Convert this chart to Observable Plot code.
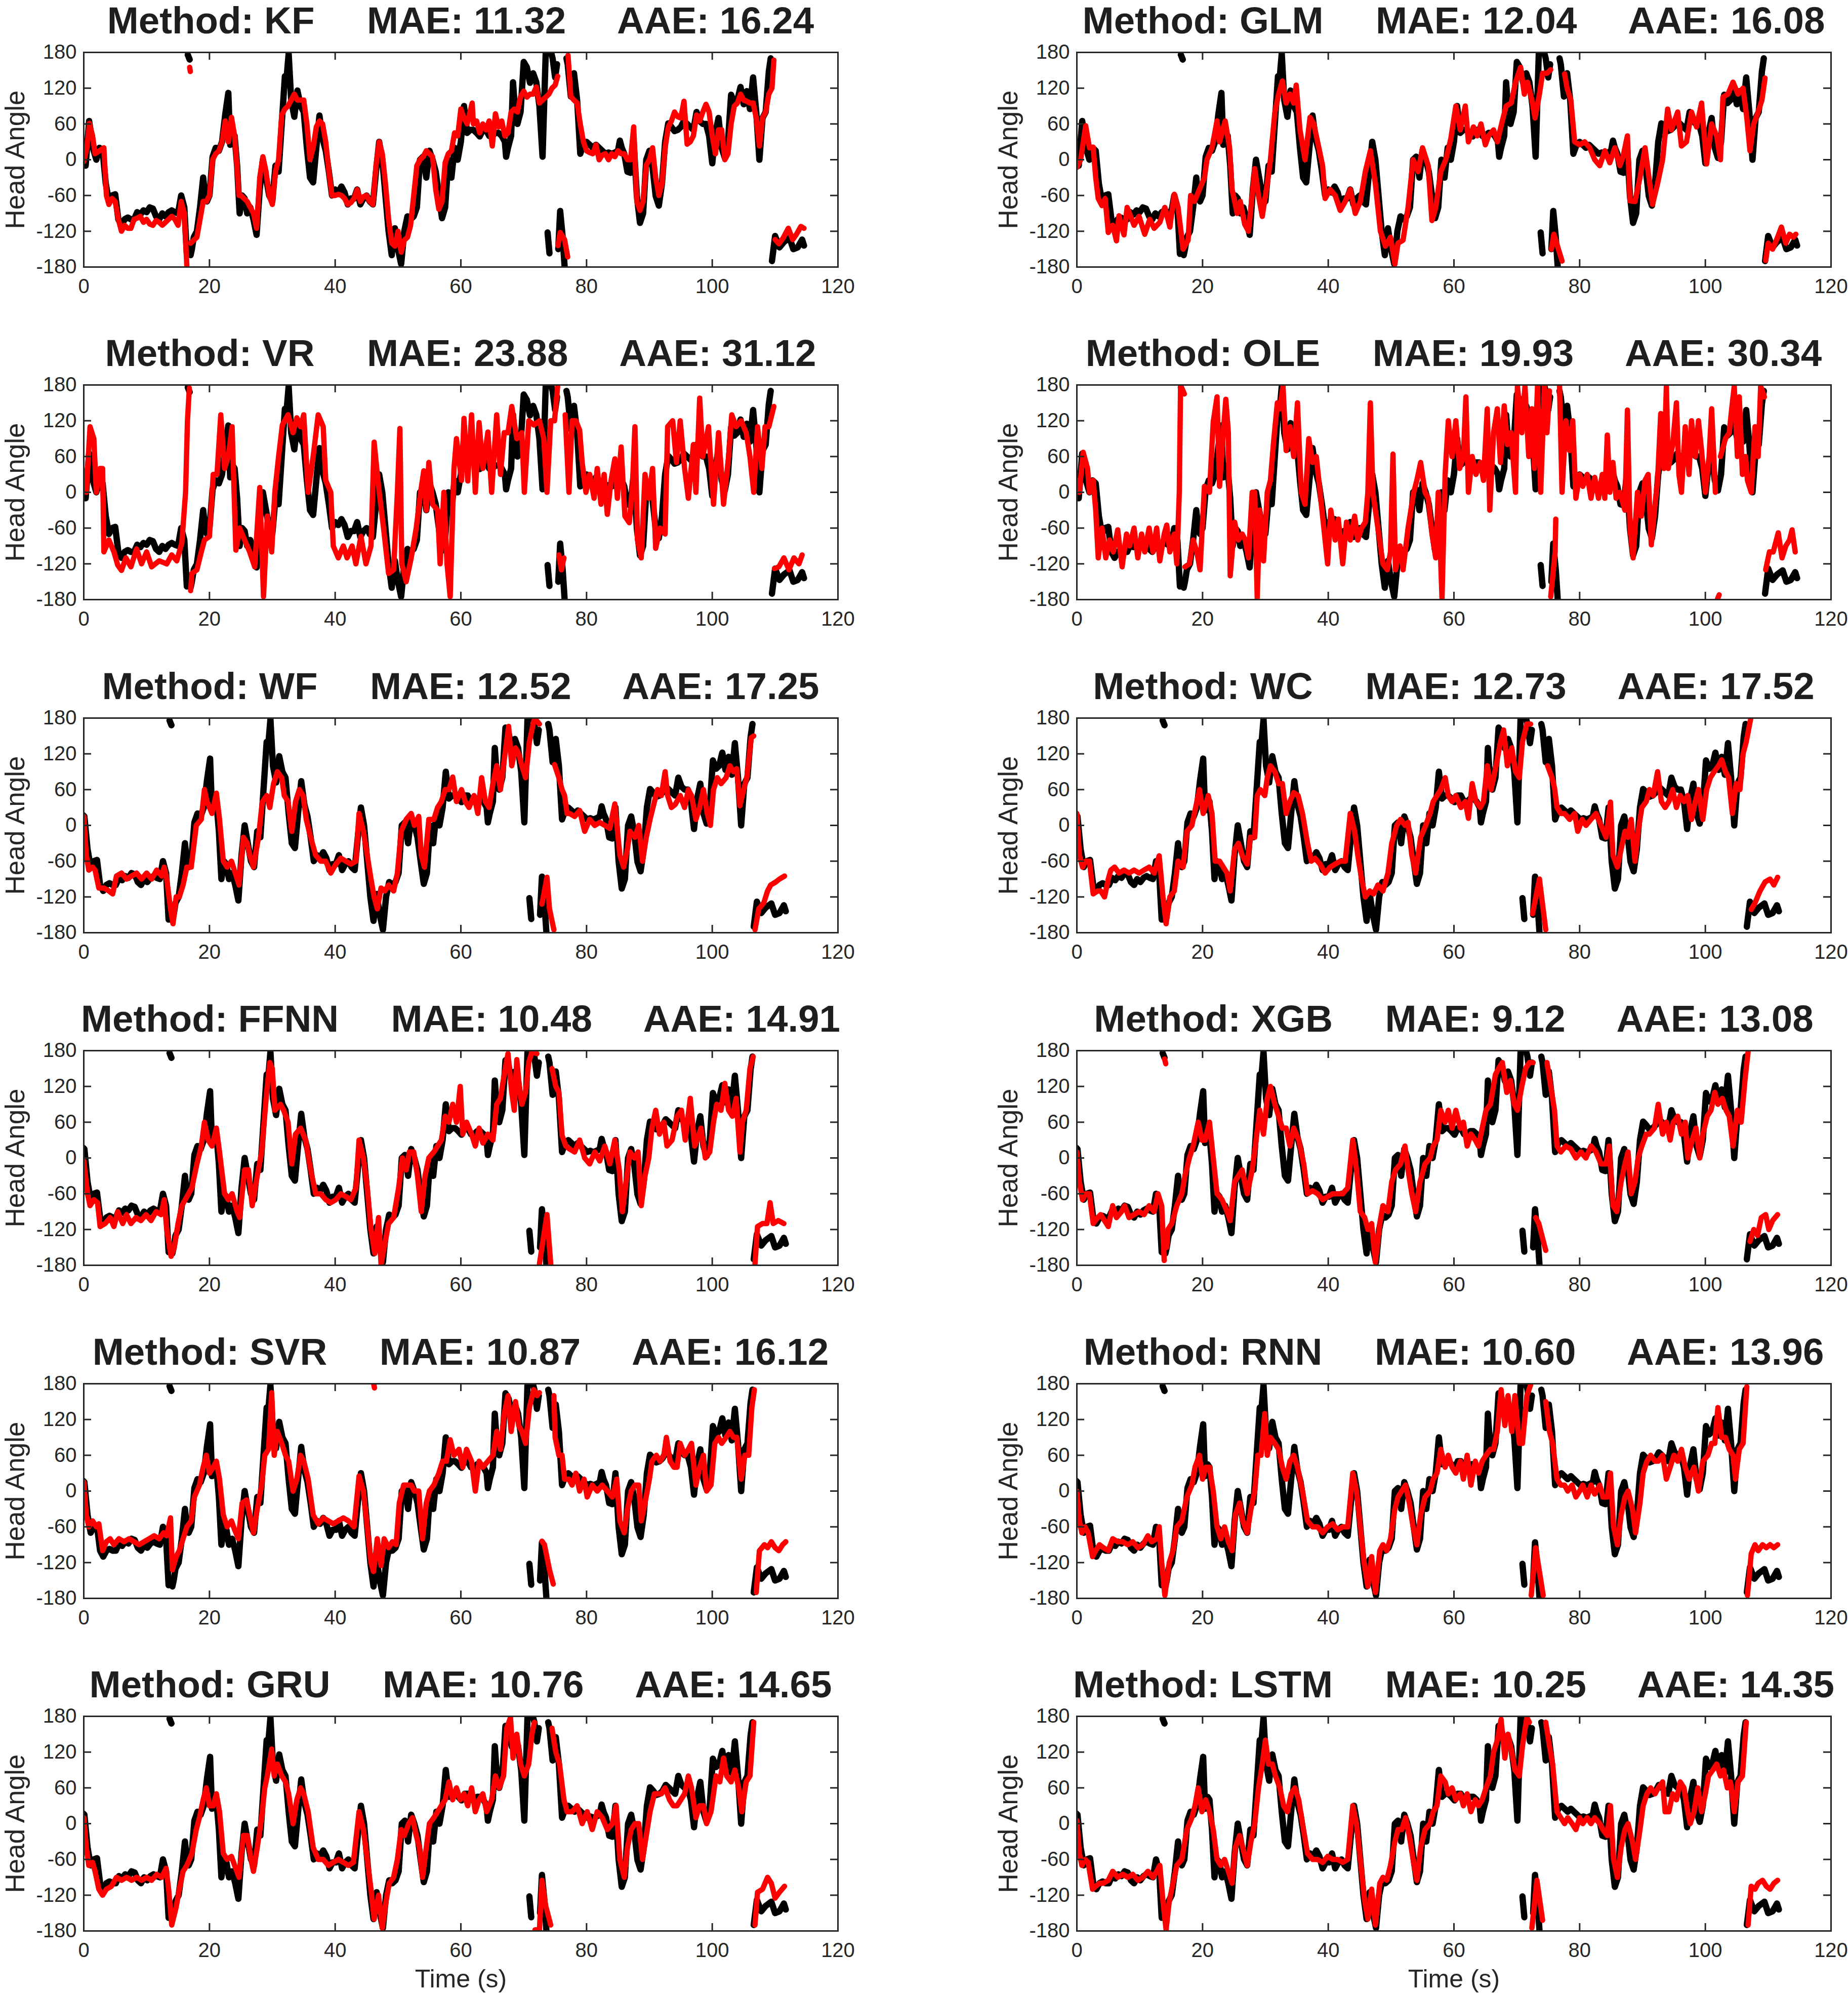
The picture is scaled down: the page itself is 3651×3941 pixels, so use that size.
<!DOCTYPE html>
<html><head><meta charset="utf-8">
<script src="https://cdn.jsdelivr.net/npm/d3@7"></script>
<script src="https://cdn.jsdelivr.net/npm/@observablehq/plot@0.6"></script>
<style>
html,body{margin:0;padding:0;background:#fff;}
#fig{position:relative;width:3651px;height:3941px;background:#fff;font-family:"Liberation Sans",Arial,Helvetica,sans-serif;color:#262626;overflow:hidden;}
.ttl{position:absolute;width:2000px;text-align:center;font-size:74.5px;font-weight:bold;line-height:1;white-space:pre;color:#1e1e1e;}
.pnl{position:absolute;}
.pnl svg{overflow:visible;}
</style></head><body><div id="fig"></div>
<script>
// ---------------- data ----------------
const methods = ["KF","GLM","VR","OLE","WF","WC","FFNN","XGB","SVR","RNN","GRU","LSTM"];
const mae = ["11.32","12.04","23.88","19.93","12.52","12.73","10.48","9.12","10.87","10.60","10.76","10.25"];
const aae = ["16.24","16.08","31.12","30.34","17.25","17.52","14.91","13.08","16.12","13.96","14.65","14.35"];
const xTicks = [0,20,40,60,80,100,120];
const yTicks = [-180,-120,-60,0,60,120,180];
// time offset (s) of the true trace in the panels of rows 3-6
const trueLag = [0,0,0,0,2.9,2.9,2.9,2.9,2.9,2.9,2.9,2.9];

// true head angle: segments of [t, angle, t, angle, ...] (breaks at the +-180 wrap)
const trueAngle = [
 [0,-5, 0.3,-10, 0.85,65, 1.5,18, 2,0, 2.5,20, 3,15, 3.5,-40, 4,-70, 4.5,-60, 5,-58, 5.5,-100, 6,-110, 6.5,-100, 7,-97, 7.5,-100, 8,-100, 8.5,-88, 9,-92, 9.5,-85, 10,-88, 10.5,-80, 11,-82, 11.5,-95, 12,-100, 12.5,-90, 13,-95, 13.5,-88, 14,-85, 14.5,-88, 15,-90, 15.5,-60, 16,-80, 16.4,-158],
 [16.55,176, 16.85,168],
 [17.0,-160, 17.2,-150, 17.5,-130, 18,-120, 18.5,-80, 19,-30, 19.3,-60, 19.6,-70, 20,-60, 20.5,5, 21,20, 21.5,15, 22,30, 22.5,75, 23,112, 23.3,25, 23.7,45, 24,40, 24.4,-10, 24.8,-90, 25.2,-60, 25.6,-65, 26,-90, 26.5,-80, 27,-100, 27.5,-126, 28,-50, 28.5,0, 29,-30, 29.5,-60, 30,-70, 30.5,-10, 31,-20, 31.5,60, 32,140, 32.3,140, 32.6,178, 33,100, 33.5,72, 34,116, 34.5,90, 35,80, 35.5,20, 36,-30, 36.5,-38, 37,20, 37.5,74, 38,35, 38.5,15, 39,-20, 39.5,-60, 40,-50, 40.5,-55, 41,-45, 41.5,-55, 42,-75, 42.5,-65, 43,-65, 43.5,-50, 44,-75, 44.5,-65, 45,-60, 45.5,-70, 46,-75, 46.5,-20, 47,30, 47.5,0, 48,-60, 48.5,-120, 49,-160, 49.5,-115, 50,-150, 50.5,-175, 51,-120, 51.5,-95, 52,-100, 52.5,-95, 53,-80, 53.5,0, 54,5, 54.5,-30, 55,15, 55.5,0, 56,-20, 56.5,-60, 57,-98, 57.5,-80, 58,0, 58.5,-30, 59,20, 59.5,0, 60,30, 60.5,90, 61,45, 61.5,50, 62,50, 62.5,45, 63,39, 63.5,50, 64,50, 64.5,40, 65,40, 65.5,45, 66,45, 66.5,40, 67,30, 67.2,5, 67.5,20, 68,40, 68.3,130, 68.5,100, 69,60, 69.5,80, 70,164, 70.5,155, 71,129, 71.5,145, 72,130, 72.5,90, 73,5, 73.5,178],
 [73.8,-122, 74.1,-157],
 [74.4,178, 74.6,170, 75,138, 75.3,160],
 [75.5,-150, 75.8,-86, 76.2,-130, 76.5,-178],
 [76.8,170, 77,160, 77.5,106, 78,145, 78.5,100, 79,10, 79.5,25, 80,30, 80.5,25, 81,20, 81.5,25, 82,20, 82.5,15, 83,10, 83.5,12, 84,10, 84.5,12, 85,15, 85.3,32, 85.6,20, 86,10, 86.5,-20, 87,-22, 87.5,30, 88,-60, 88.5,-106, 89,-90, 89.5,0, 90,15, 90.5,-13, 91,-61, 91.5,-77, 92,-40, 92.5,30, 93,61, 93.5,55, 94,48, 94.5,50, 95,55, 95.5,65, 96,60, 96.5,55, 97,50, 97.5,80, 98,65, 98.5,60, 99,60, 99.5,40, 100,-6, 100.5,45, 101,70, 101.5,20, 102,3, 102.5,30, 103,109, 103.5,95, 104,100, 104.5,122, 105,93, 105.5,115, 106,85, 106.5,138, 107,80, 107.5,0, 108,70, 108.5,80, 109,148, 109.3,170],
 [109.5,-170, 110,-128, 110.7,-147, 111.4,-138, 112.3,-131, 112.9,-150, 113.6,-147, 114.3,-134, 114.6,-144]
];

// predicted head angle per method
const predKF = [
 [0,-3, 0.5,20, 0.9,61, 1.4,40, 1.8,10, 2.5,15, 3.2,20, 3.6,-60, 4,-75, 4.5,-65, 5,-70, 5.5,-100, 6,-120, 6.5,-110, 7,-115, 7.5,-115, 8,-100, 8.5,-98, 9,-95, 9.5,-105, 10,-100, 10.5,-108, 11,-110, 11.5,-102, 12,-105, 12.5,-110, 13,-105, 13.5,-100, 14,-95, 14.5,-100, 15,-110, 15.5,-70, 16,-90, 16.4,-178],
 [16.85,155, 16.95,148],
 [17.0,-140, 17.5,-135, 18,-130, 18.5,-100, 19,-70, 19.5,-70, 20,-60, 20.5,0, 21,10, 21.5,15, 22,30, 22.5,65, 23,30, 23.5,71, 24,40, 24.3,0, 24.7,-60, 25,-60, 25.5,-65, 26,-70, 26.5,-80, 27,-90, 27.5,-115, 28,-30, 28.5,5, 29,-20, 29.5,-60, 30,-75, 30.5,-20, 31,0, 31.5,75, 32,85, 32.5,90, 33,100, 33.5,110, 34,100, 34.5,100, 35,100, 35.5,60, 36,0, 36.5,20, 37,55, 37.5,65, 38,60, 38.5,30, 39,-20, 39.5,-60, 40,-60, 40.5,-58, 41,-60, 41.5,-65, 42,-75, 42.5,-72, 43,-65, 43.5,-50, 44,-70, 44.5,-62, 45,-60, 45.5,-70, 46,-75, 46.5,-10, 47,30, 47.5,10, 48,-40, 48.5,-100, 49,-140, 49.5,-145, 50,-120, 50.5,-155, 51,-135, 51.5,-130, 52,-110, 52.5,-60, 53,-10, 53.5,0, 54,5, 54.5,15, 55,10, 55.5,5, 56,-50, 56.5,-83, 57,-70, 57.5,-5, 58,10, 58.5,15, 59,45, 59.5,40, 60,85, 60.5,70, 61,60, 61.8,95, 62,60, 62.5,65, 63,45, 63.5,60, 64,50, 64.5,65, 65,23, 65.5,77, 66,55, 66.5,65, 67,40, 67.5,45, 68,80, 68.5,85, 69,80, 69.5,106, 70,115, 70.5,105, 71,110, 71.5,110, 72,122, 72.5,95, 73,100, 73.5,105, 74,110, 74.5,120, 75,125, 75.4,140],
 [75.45,-144, 75.8,-122, 76.5,-134, 77.0,-163],
 [77.05,175, 77.5,106, 78,100, 78.5,95, 79,60, 79.5,30, 80,15, 80.5,12, 81,10, 81.5,25, 82,0, 82.5,8, 83,10, 83.5,0, 84,10, 84.5,5, 85,15, 85.5,10, 86,10, 86.5,0, 87,0, 87.5,55, 88,-70, 88.5,-85, 89,-70, 89.5,-9, 90,0, 90.5,20, 91,-30, 91.5,-60, 92,-40, 92.5,20, 93,55, 93.5,65, 94,80, 94.5,72, 95,70, 95.5,98, 96,26, 96.5,30, 97,40, 97.5,75, 98,65, 98.5,80, 99,93, 99.5,80, 100,40, 100.5,10, 101,50, 101.5,50, 102,0, 102.5,10, 103,60, 103.5,90, 104,95, 104.5,110, 105,100, 105.5,98, 106,95, 106.5,95, 107,70, 107.5,23, 108,70, 108.5,80, 109,110, 109.5,120, 109.8,167],
 [110.0,-134, 110.6,-141, 111.3,-131, 112.1,-115, 112.8,-134, 113.4,-125, 114.1,-112, 114.6,-115]
];
const predGLM = [
 [0,-13, 0.6,0, 1.4,57, 2.0,20, 2.6,21, 3.0,-30, 3.4,-65, 4.0,-77, 4.5,-65, 5.0,-122, 5.7,-110, 6.3,-136, 6.7,-94, 7.5,-126, 8.0,-80, 9.1,-110, 9.9,-95, 10.8,-125, 11.6,-100, 12.3,-115, 13.2,-105, 14.0,-80, 14.8,-113, 15.5,-58, 16.1,-80, 16.9,-150, 17.7,-135, 18.1,-60, 18.7,-70, 19.5,-50, 20.3,-30, 20.7,0, 21.5,20, 22.3,65, 22.7,30, 23.6,65, 24.3,20, 24.7,-50, 25.5,-90, 26.0,-70, 26.7,-108, 27.3,-120, 27.9,-60, 28.3,-15, 28.9,-60, 29.5,-95, 30.3,-40, 30.8,0, 31.5,79, 32.1,110, 32.7,132, 33.3,95, 33.9,110, 34.5,95, 34.9,125, 35.5,50, 36.3,0, 37.1,71, 37.7,60, 38.3,30, 39.1,-10, 39.5,-65, 40.3,-50, 41.1,-60, 41.9,-85, 42.7,-70, 43.5,-50, 44.3,-90, 45.1,-70, 45.9,-20, 46.7,15, 47.5,-40, 48.3,-120, 49.1,-145, 49.9,-130, 50.6,-175, 51.1,-140, 51.9,-135, 52.7,-80, 53.5,0, 54.3,-20, 55.0,20, 55.9,-10, 56.5,-102, 57.1,-80, 57.9,-20, 58.7,0, 59.5,35, 60.3,90, 61.0,50, 61.8,90, 62.3,30, 63.1,55, 63.7,40, 64.3,60, 65.0,25, 65.5,40, 66.3,50, 66.9,30, 67.7,65, 68.3,90, 69.1,95, 69.8,130, 70.6,155, 71.2,110, 71.7,130, 72.4,100, 72.9,70, 73.6,110, 74.1,145, 74.8,145, 75.4,151],
 [75.5,-150, 75.9,-125, 77.2,-170],
 [77.6,144, 78.0,120, 78.6,100, 79.2,30, 80.0,25, 80.8,30, 81.6,20, 82.4,0, 83.2,-10, 84.0,15, 84.8,-5, 85.6,20, 86.4,-10, 86.9,5, 87.6,40, 88.0,-69, 88.8,-70, 89.6,-30, 90.4,20, 90.9,-20, 91.6,-75, 92.4,-40, 93.2,0, 94.0,85, 94.6,50, 95.6,80, 96.2,23, 97.0,30, 97.8,80, 98.6,55, 99.4,95, 100.2,-7, 101.0,60, 101.8,40, 102.4,0, 102.8,105, 103.6,110, 104.4,130, 105.2,110, 106.0,120, 106.6,70, 107.1,15, 107.7,60, 108.4,80, 109.0,100, 109.5,137],
 [109.6,-169, 110.0,-140, 110.7,-150, 111.5,-130, 112.1,-113, 112.8,-140, 113.4,-125, 114.0,-130, 114.4,-125]
];
const predVR = [
 [0,36, 0.4,0, 1.0,110, 1.6,90, 2.0,0, 2.6,40, 3.0,40, 3.2,-100, 4.0,-80, 4.8,-100, 5.4,-122, 6.0,-131, 6.7,-110, 7.5,-125, 8.4,-95, 9.2,-120, 10.0,-100, 10.8,-125, 12.0,-115, 13.2,-120, 14.0,-105, 14.8,-115, 15.6,-85, 16.2,0, 16.5,120, 16.8,175],
 [17.0,-165, 17.2,-136, 18.0,-130, 18.7,-100, 19.2,-80, 20.0,-74, 20.6,30, 21.2,30, 21.8,130, 22.4,40, 23.0,60, 23.6,110, 24.2,-97, 24.8,-60, 25.6,-80, 26.4,-100, 27.2,-125, 28.0,8, 28.6,-175, 29.2,-40, 29.9,-100, 30.4,0, 31.0,60, 31.6,113, 32.5,130, 33.3,100, 33.9,125, 34.5,110, 35.0,130, 35.7,0, 36.5,60, 37.3,130, 38.1,110, 38.5,20, 39.3,0, 39.7,-90, 40.5,-110, 41.3,-90, 41.9,-110, 42.7,-90, 43.3,-120, 44.1,-74, 44.9,-120, 45.7,-90, 46.2,84, 46.9,10, 47.7,-60, 48.5,-136, 49.3,-130, 49.9,0, 50.3,107, 50.6,-120, 51.3,-150, 52.1,-110, 52.9,-60, 53.6,0, 54.1,36, 54.5,-30, 54.9,50, 55.5,-20, 56.3,-30, 56.7,-120, 57.3,0, 57.8,-120, 58.3,-175, 58.9,39, 59.3,90, 60.1,20, 60.5,124, 61.1,19, 61.7,130, 62.3,0, 62.9,117, 63.5,40, 64.3,101, 64.9,0, 65.7,130, 66.3,30, 66.9,100, 67.5,100, 68.1,144, 68.9,90, 69.7,100, 70.1,0, 70.8,120, 71.6,113, 72.5,120, 73.2,90, 73.7,0, 74.3,120, 74.9,120, 75.4,178],
 [75.6,-105, 76.0,-130, 76.4,-110],
 [76.6,130, 77.2,0, 77.7,120, 78.3,120, 78.9,104, 79.3,50, 79.9,0, 80.5,30, 81.2,-10, 81.7,40, 82.3,-20, 82.8,30, 83.3,-37, 83.9,20, 84.5,56, 84.9,-10, 85.5,76, 86.1,-40, 86.8,-51, 87.3,10, 87.7,110, 88.1,-80, 88.7,-110, 89.3,30, 89.9,-10, 90.5,40, 91.0,-94, 91.7,-60, 92.5,-70, 92.9,110, 93.7,120, 94.3,50, 94.9,120, 95.6,40, 96.2,-10, 97.0,80, 97.4,0, 98.0,158, 98.5,60, 99.4,110, 100.2,-20, 101.0,100, 101.8,-20, 102.6,60, 103.1,130, 103.8,110, 104.6,120, 105.4,100, 106.0,60, 106.6,0, 107.2,110, 107.9,40, 108.4,110, 109.0,110, 109.8,144],
 [109.9,-128, 110.6,-125, 111.4,-110, 112.2,-130, 113.0,-110, 113.8,-120, 114.3,-105]
];
const predOLE = [
 [0,20, 0.4,0, 1.0,67, 1.7,40, 2.0,0, 2.6,20, 3.0,-30, 3.4,-110, 4.0,-60, 4.6,-110, 5.2,-80, 5.8,-100, 6.5,-63, 7.2,-125, 7.9,-70, 8.4,-90, 9.1,-60, 9.7,-110, 10.3,-70, 10.8,-100, 11.5,-60, 12.1,-100, 12.7,-60, 13.2,-115, 13.9,-70, 14.3,-55, 14.8,-100, 15.5,-70, 15.9,-120, 16.3,0, 16.5,178, 16.9,170, 17.1,165],
 [17.2,-125, 17.9,-120, 18.5,-80, 19.1,-100, 19.6,-130, 20.3,10, 21.1,0, 21.7,118, 22.3,160, 22.7,10, 23.3,100, 23.7,156, 24.1,100, 24.4,-140, 25.1,-50, 25.7,-80, 26.3,-70, 26.8,-80, 27.3,-110, 27.9,0, 28.3,0, 28.7,-178, 29.1,-30, 29.7,-115, 30.3,0, 30.8,20, 31.3,84, 31.9,150, 32.3,140, 32.8,178, 33.3,70, 33.9,110, 34.5,60, 35.1,150, 35.7,0, 36.3,-20, 36.9,90, 37.5,50, 38.1,60, 38.7,0, 39.3,-60, 39.9,-120, 40.4,-30, 41.1,-80, 41.6,-45, 42.3,-120, 42.9,-50, 43.5,-80, 44.2,-40, 44.7,-80, 45.3,-60, 45.9,-50, 46.3,0, 46.7,150, 47.1,0, 47.9,-60, 48.7,-120, 49.4,-130, 49.9,-100, 50.3,64, 50.7,-130, 51.4,-90, 51.9,-130, 52.7,-60, 53.6,0, 54.1,20, 54.7,50, 55.4,0, 55.9,-10, 56.5,-70, 57.1,-110, 57.5,0, 58.1,-178, 58.6,30, 59.1,120, 59.7,60, 60.3,120, 60.9,40, 61.5,60, 61.9,160, 62.3,0, 62.9,60, 63.5,30, 64.2,50, 64.7,20, 65.3,140, 65.7,-30, 66.3,100, 66.9,140, 67.4,50, 68.0,145, 68.5,80, 69.1,100, 69.8,0, 70.1,178, 70.8,100, 71.3,178, 71.9,60, 72.4,140, 72.8,40, 73.3,178, 73.8,0, 74.4,178, 74.8,100, 75.2,170],
 [75.4,-175, 76.1,-100, 76.2,-45],
 [76.8,178, 77.2,0, 77.8,120, 78.4,70, 78.9,120, 79.4,-10, 80.0,30, 80.5,10, 81.2,30, 81.8,-10, 82.4,25, 83.0,-10, 83.6,30, 84.0,-10, 84.4,96, 84.8,0, 85.3,50, 85.8,-10, 86.4,0, 87.2,-30, 87.6,138, 88.0,-60, 88.5,-110, 89.2,0, 89.8,-40, 90.4,20, 90.9,30, 91.4,-88, 92.0,-20, 92.4,20, 92.9,132, 93.4,40, 93.8,178, 94.1,40, 94.8,80, 95.4,150, 95.8,30, 96.2,0, 96.8,110, 97.4,30, 97.8,120, 98.4,60, 98.9,120, 99.4,70, 100.0,0, 100.6,60, 101.0,140, 101.6,0],
 [101.9,-180, 102.2,-172],
 [102.4,60, 103.2,90, 103.8,100, 104.3,150, 104.6,178, 105.1,60, 105.4,160, 105.9,30, 106.4,60, 106.7,20, 107.3,0, 107.9,110, 108.4,60, 108.8,178, 109.4,160],
 [109.6,-130, 110.2,-100, 110.8,-100, 111.6,-68, 112.2,-110, 112.8,-90, 113.4,-80, 113.8,-63, 114.3,-100]
];
const predWF = [
 [0,15, 0.4,-50, 0.8,-75, 1.4,-70, 1.8,-75, 2.4,-105, 3.2,-105, 4.0,-110, 4.6,-115, 5.2,-85, 6.0,-80, 6.8,-90, 7.6,-85, 8.4,-80, 9.2,-90, 10.0,-80, 10.8,-90, 11.6,-75, 12.4,-85, 12.8,-70, 13.2,-90, 13.8,-140, 14.2,-165, 14.7,-120, 15.2,-120, 15.8,-100, 16.4,-70, 17.1,-70, 17.9,0, 18.7,10, 19.2,60, 19.6,40, 20.4,20, 21.1,54, 21.6,10, 22.2,-60, 22.8,-70, 23.5,-60, 24.1,-80, 24.7,-100, 25.4,-20, 26.0,-30, 26.4,-50, 27.0,-70, 27.8,-20, 28.4,39, 29.1,50, 29.6,30, 30.2,70, 30.8,90, 31.5,80, 31.9,50, 32.5,40, 33.1,-10, 33.7,40, 34.3,60, 34.9,50, 35.4,10, 36.1,-20, 36.9,-50, 37.7,-60, 38.5,-60, 39.3,-80, 40.1,-65, 40.9,-55, 41.7,-60, 42.5,-65, 43.3,-60, 43.8,20, 44.5,-10, 45.1,-50, 45.7,-90, 46.2,-120, 46.7,-140, 47.3,-105, 47.9,-110, 48.5,-100, 49.3,-110, 49.9,-80, 50.5,-10, 51.3,10, 52.1,20, 52.6,0, 53.3,15, 53.7,-50, 54.2,-70, 54.9,10, 55.7,10, 56.3,30, 56.9,40, 57.5,60, 58.1,60, 58.7,81, 59.3,40, 60.1,60, 60.7,40, 61.3,30, 62.1,50, 62.7,20, 63.3,80, 63.9,40, 64.5,30, 65.1,70, 65.7,100, 66.3,60, 66.9,110, 67.6,166, 68.1,100, 68.7,130, 69.2,120, 69.7,100, 70.3,80, 70.9,140, 71.6,175, 72.1,175, 72.5,170],
 [72.9,-132, 73.7,-87, 74.1,-140, 74.8,-175],
 [74.9,102, 75.6,80, 76.1,60, 76.5,50, 76.9,20, 77.3,20, 78.1,15, 78.9,25, 79.7,-10, 80.5,10, 81.3,0, 82.1,5, 82.9,0, 83.7,-5, 84.5,36, 85.3,-50, 85.9,-70, 86.5,-40, 86.9,-10, 87.7,-20, 88.3,0, 88.9,-60, 89.5,-20, 90.1,10, 90.8,40, 91.3,60, 91.9,50, 92.5,90, 92.9,50, 93.5,30, 94.1,35, 94.9,50, 95.6,30, 96.2,60, 96.7,50, 97.4,10, 98.0,30, 98.6,60, 99.2,20, 99.7,0, 100.2,60, 100.8,80, 101.4,70, 102.2,80, 102.8,100, 103.4,90, 103.9,95, 104.4,33, 105.0,60, 105.5,80, 106.2,147, 106.6,150],
 [106.8,-175, 107.4,-140, 108.2,-130, 108.8,-110, 109.3,-100, 110.1,-95, 110.7,-90, 111.5,-85]
];
const predWC = [
 [0,20, 0.4,-50, 0.9,-70, 1.4,-60, 2.0,-60, 2.6,-115, 3.3,-110, 3.8,-110, 4.4,-120, 5.0,-90, 5.4,-75, 6.0,-70, 6.7,-80, 7.5,-75, 8.3,-80, 9.1,-75, 9.9,-80, 10.7,-75, 11.5,-70, 12.3,-80, 13.1,-51, 13.7,-120, 14.2,-165, 14.8,-120, 15.5,-110, 16.1,-60, 16.9,-70, 17.5,-10, 18.3,0, 19.1,40, 19.5,60, 20.1,20, 20.9,50, 21.5,20, 22.0,-60, 22.7,-60, 23.3,-70, 23.9,-80, 24.4,-110, 25.1,-40, 25.7,-30, 26.3,-50, 27.1,-65, 27.6,-20, 28.3,-20, 28.7,50, 29.2,60, 29.9,50, 30.3,80, 30.8,100, 31.5,90, 32.1,70, 32.7,70, 33.3,20, 33.9,40, 34.5,55, 35.2,50, 35.9,20, 36.7,-30, 37.3,-60, 37.9,-55, 38.7,-65, 39.5,-80, 40.3,-70, 41.1,-65, 41.9,-60, 42.7,-60, 43.5,20, 44.2,-10, 44.7,-50, 45.3,-90, 45.9,-120, 46.6,-110, 47.2,-115, 47.9,-100, 48.7,-110, 49.5,-80, 50.1,-30, 50.9,0, 51.5,10, 52.2,0, 52.7,5, 53.3,-50, 53.9,-80, 54.7,-20, 55.5,0, 56.2,20, 56.7,40, 57.3,50, 57.9,60, 58.6,80, 59.1,50, 59.7,40, 60.3,50, 61.1,30, 61.8,40, 62.3,12, 62.9,70, 63.5,40, 64.2,30, 64.7,40, 65.3,100, 65.9,60, 66.7,100, 67.4,140, 67.9,160, 68.5,100, 69.2,130, 69.8,90, 70.4,80, 70.9,140, 71.6,170, 72.2,170],
 [72.5,-148, 73.6,-90, 74.6,-175],
 [74.9,100, 75.6,80, 76.0,63, 76.4,30, 77.0,20, 77.6,20, 78.4,10, 79.2,20, 79.7,-10, 80.4,10, 81.0,0, 81.8,10, 82.6,20, 83.4,0, 84.2,-20, 84.9,39, 85.3,-50, 86.0,-70, 86.6,-40, 87.2,-10, 87.7,-20, 88.2,10, 88.8,-60, 89.3,-10, 89.9,30, 90.6,40, 91.1,60, 91.7,50, 92.4,90, 93.0,40, 93.6,30, 94.2,40, 94.8,60, 95.4,30, 96.0,50, 96.6,40, 97.2,50, 97.8,10, 98.4,40, 98.9,60, 99.6,10, 100.2,60, 100.8,80, 101.4,90, 102.1,100, 102.6,110, 103.2,90, 103.7,80, 104.3,20, 104.9,70, 105.5,60, 106.0,120, 106.5,140, 107.2,178],
 [107.3,-141, 107.9,-130, 108.7,-110, 109.5,-95, 110.3,-90, 110.9,-100, 111.5,-87]
];
const predFFNN = [
 [0,-5, 0.6,-60, 1.0,-80, 1.6,-70, 2.2,-75, 2.6,-115, 3.4,-110, 4.2,-100, 4.8,-115, 5.4,-90, 6.2,-110, 6.8,-95, 7.5,-110, 8.3,-100, 9.1,-105, 9.9,-95, 10.7,-105, 11.5,-90, 12.3,-95, 12.8,-70, 13.2,-120, 13.9,-165, 14.4,-150, 15.0,-110, 15.6,-80, 16.4,-65, 17.2,-50, 18.0,-10, 18.7,20, 19.2,60, 19.8,30, 20.4,20, 21.1,50, 21.6,10, 22.4,-60, 23.0,-70, 23.6,-60, 24.4,-90, 24.8,-100, 25.6,-20, 26.2,-20, 26.8,-80, 27.6,-30, 28.3,10, 29.1,110, 29.6,160, 30.0,150, 30.4,80, 31.3,90, 31.8,80, 32.5,60, 33.1,-10, 33.7,40, 34.5,50, 35.3,30, 36.1,-20, 36.9,-60, 37.7,-60, 38.5,-70, 39.3,-75, 40.1,-70, 40.9,-60, 41.7,-65, 42.5,-70, 43.3,-50, 43.8,30, 44.5,0, 45.1,-50, 45.7,-120, 46.3,-160, 46.9,-100, 47.3,-178, 47.8,-150, 48.5,-110, 49.3,-100, 50.1,-50, 50.7,0, 51.3,-20, 51.8,10, 52.5,10, 53.1,-30, 53.7,-90, 54.3,-30, 54.9,0, 55.7,10, 56.3,20, 56.9,30, 57.5,70, 58.1,60, 58.7,90, 59.3,60, 59.9,120, 60.3,40, 60.9,60, 61.7,40, 62.3,20, 62.9,50, 63.5,25, 64.3,40, 65.1,30, 65.7,90, 66.3,100, 66.9,140, 67.5,175, 68.1,110, 68.5,80, 68.9,165, 69.3,120, 69.7,90, 70.3,110, 70.8,160, 71.3,178, 72.1,175],
 [72.5,-178, 73.7,-95, 74.3,-178],
 [74.5,150, 75.1,120, 75.6,110, 76.1,38, 76.7,20, 77.3,15, 78.1,10, 78.9,30, 79.7,0, 80.5,-10, 81.3,10, 82.1,-5, 82.9,20, 83.7,-10, 84.5,30, 85.2,-20, 85.7,-90, 86.3,-40, 86.9,10, 87.6,0, 88.2,10, 88.7,-80, 89.3,-30, 89.9,0, 90.4,50, 91.0,80, 91.6,40, 92.3,60, 92.8,20, 93.6,30, 94.4,70, 95.1,80, 95.7,30, 96.5,100, 97.2,20, 97.6,30, 98.2,50, 98.9,0, 99.6,10, 100.2,60, 100.7,90, 101.4,80, 102.0,125, 102.6,80, 103.2,70, 103.8,100, 104.4,10, 104.8,60, 105.4,80, 106.0,150, 106.5,170],
 [106.8,-178, 107.2,-115, 108.0,-110, 108.7,-110, 109.2,-75, 109.7,-110, 110.5,-105, 111.4,-110]
];
const predXGB = [
 [0,10, 0.4,-40, 0.9,-70, 1.4,-60, 2.0,-60, 2.6,-110, 3.3,-100, 3.8,-95, 4.4,-105, 5.0,-115, 5.7,-80, 6.3,-100, 7.1,-90, 7.6,-80, 8.3,-100, 9.1,-95, 9.9,-90, 10.7,-95, 11.5,-80, 12.3,-90, 12.9,-60, 13.5,-80, 13.9,-172],
 [13.95,166, 14.15,158],
 [14.3,-150, 14.5,-120, 15.1,-110, 15.9,-80, 16.7,-60, 17.2,-30, 17.9,0, 18.5,20, 19.3,60, 19.9,30, 20.4,30, 21.1,60, 21.6,10, 22.3,-60, 23.1,-70, 23.9,-90, 24.4,-105, 25.1,-40, 25.7,-30, 26.3,-20, 27.1,-60, 27.9,-20, 28.4,20, 29.1,80, 29.7,40, 30.3,100, 30.8,120, 31.5,90, 32.1,70, 32.7,50, 33.3,50, 33.9,20, 34.5,50, 35.3,30, 36.1,-10, 36.7,-60, 37.5,-55, 38.3,-60, 39.1,-70, 39.9,-65, 40.7,-60, 41.5,-60, 42.3,-60, 43.1,-50, 43.9,30, 44.5,-20, 45.1,-90, 45.8,-100, 46.3,-120, 46.9,-110, 47.5,-175, 48.2,-110, 48.7,-80, 49.5,-90, 50.1,-40, 50.7,-20, 51.5,-10, 52.2,20, 52.7,-20, 53.3,-60, 53.9,-90, 54.6,-40, 55.4,-10, 56.2,0, 56.7,20, 57.3,30, 57.9,80, 58.6,60, 59.1,80, 59.7,50, 60.3,80, 61.0,50, 61.5,60, 62.1,20, 62.7,40, 63.4,30, 63.9,20, 64.5,50, 65.1,80, 65.8,90, 66.6,140, 67.1,150, 67.7,160, 68.4,110, 69.0,130, 69.6,90, 70.1,80, 70.8,120, 71.4,150, 72.0,160, 72.6,160],
 [73.0,-100, 73.5,-110, 74.6,-155],
 [74.8,160, 75.4,120, 76.0,80, 76.4,20, 77.0,10, 77.8,20, 78.6,15, 79.4,0, 80.2,10, 81.0,0, 81.8,20, 82.6,10, 83.4,-10, 84.2,-10, 84.7,20, 85.3,-80, 85.9,-90, 86.6,-40, 87.2,-10, 87.7,10, 88.2,-60, 88.8,-40, 89.3,0, 89.9,20, 90.6,40, 91.1,40, 91.9,50, 92.5,90, 93.2,40, 93.8,60, 94.4,30, 94.9,60, 95.6,70, 96.2,40, 96.8,60, 97.2,0, 97.9,30, 98.5,50, 99.1,0, 99.6,40, 100.3,70, 100.9,80, 101.5,110, 102.0,90, 102.7,100, 103.3,80, 103.8,70, 104.4,20, 105.1,80, 105.7,60, 106.3,130, 106.8,178],
 [107.1,-140, 107.7,-120, 108.3,-130, 108.9,-100, 109.6,-95, 110.1,-120, 110.7,-105, 111.5,-95]
];
const predSVR = [
 [0,15, 0.4,-40, 0.8,-60, 1.4,-50, 2.0,-60, 2.4,-55, 3.0,-100, 3.6,-85, 4.2,-80, 4.8,-90, 5.6,-80, 6.4,-85, 7.2,-80, 8.0,-85, 8.8,-90, 9.6,-85, 10.4,-80, 11.2,-75, 12.0,-80, 12.7,-70, 13.2,-75, 13.8,-45, 14.1,-132, 14.7,-110, 15.2,-100, 15.8,-80, 16.4,-60, 17.1,-50, 17.6,-10, 18.4,10, 19.0,40, 19.5,60, 20.0,30, 20.6,40, 21.1,50, 21.6,20, 22.2,-40, 22.8,-60, 23.5,-50, 24.0,-65, 24.6,-80, 25.2,-20, 25.9,-15, 26.4,-40, 27.0,-70, 27.6,-30, 28.3,10, 28.8,60, 29.4,70, 29.9,165, 30.3,60, 30.8,100, 31.5,80, 32.1,60, 32.6,50, 33.3,0, 33.9,20, 34.5,60, 35.0,50, 35.7,20, 36.5,-40, 37.3,-55, 38.1,-45, 38.9,-50, 39.7,-55, 40.5,-50, 41.3,-45, 42.1,-50, 43.0,-60, 43.8,25, 44.5,0, 45.1,-60, 45.7,-120, 46.1,-135, 46.7,-80, 47.3,-125, 47.8,-80, 48.5,-95, 49.1,-85, 49.7,-90, 50.2,-20, 50.9,10, 51.5,10, 52.1,10, 52.6,0, 53.3,0, 53.9,-80, 54.5,-20, 55.0,0, 55.7,10, 56.5,30, 57.1,50, 57.7,50, 58.3,86, 58.9,60, 59.7,70, 60.3,40, 60.9,70, 61.7,50, 62.3,0, 62.9,50, 63.5,40, 64.3,50, 65.1,60, 65.7,100, 66.3,70, 66.9,130, 67.5,160, 68.0,100, 68.7,150, 69.2,110, 69.7,100, 70.3,80, 70.9,140, 71.6,170, 72.1,160, 72.5,165],
 [46.15,179, 46.25,173],
 [72.9,-84, 73.3,-90, 74.1,-132, 74.7,-156],
 [74.8,160, 75.0,90, 75.6,60, 76.1,60, 76.5,20, 77.2,20, 77.7,10, 78.3,30, 78.9,0, 79.6,20, 80.1,-10, 80.9,10, 81.7,0, 82.5,10, 83.3,0, 84.1,-10, 84.8,20, 85.3,-50, 86.0,-70, 86.5,-30, 87.1,0, 87.7,10, 88.3,10, 88.7,-50, 89.3,-20, 90.0,20, 90.4,50, 91.1,60, 91.7,50, 92.3,60, 92.7,90, 93.3,50, 93.9,40, 94.4,40, 94.9,80, 95.6,60, 96.2,70, 96.7,80, 97.4,10, 98.0,40, 98.6,60, 99.1,0, 99.8,10, 100.4,80, 101.0,90, 101.5,80, 102.2,90, 102.8,100, 103.4,90, 103.9,90, 104.6,20, 105.2,60, 105.8,60, 106.3,140, 106.7,170],
 [107.0,-170, 107.5,-100, 108.3,-90, 108.8,-95, 109.4,-85, 110.0,-95, 110.6,-100, 111.2,-90, 111.7,-85]
];
const predRNN = [
 [0,0, 0.4,-50, 0.8,-70, 1.3,-60, 1.8,-70, 2.5,-110, 3.0,-100, 3.6,-90, 4.2,-95, 5.0,-100, 5.7,-80, 6.5,-85, 7.3,-85, 8.1,-90, 8.9,-85, 9.7,-95, 10.5,-90, 11.3,-75, 11.9,-85, 12.7,-80, 13.1,-60, 13.5,-120, 14.0,-175, 14.7,-120, 15.3,-100, 15.9,-60, 16.7,-50, 17.5,-10, 18.3,10, 18.8,40, 19.5,60, 20.0,20, 20.5,40, 21.1,40, 21.7,0, 22.3,-60, 22.9,-80, 23.5,-60, 24.1,-85, 24.7,-100, 25.2,-40, 25.9,-20, 26.4,-50, 27.1,-70, 27.7,-30, 28.3,0, 28.8,60, 29.3,60, 29.9,130, 30.3,60, 30.8,90, 31.5,80, 32.1,70, 32.7,40, 33.3,20, 33.9,50, 34.5,60, 35.1,40, 35.9,0, 36.7,-50, 37.5,-60, 38.3,-60, 39.1,-70, 39.9,-60, 40.7,-55, 41.5,-65, 42.3,-60, 43.1,-60, 43.9,30, 44.5,0, 45.1,-60, 45.7,-120, 46.3,-160, 46.9,-110, 47.5,-170, 48.2,-100, 48.7,-90, 49.3,-100, 49.9,-80, 50.6,-30, 51.1,-10, 51.7,0, 52.3,10, 52.9,-20, 53.5,-60, 54.1,-90, 54.7,-40, 55.4,-10, 56.2,0, 56.7,20, 57.3,30, 57.9,70, 58.6,40, 59.1,60, 59.7,40, 60.3,30, 61.0,50, 61.5,20, 62.1,60, 62.7,10, 63.4,50, 63.9,30, 64.5,50, 65.1,60, 65.8,70, 66.3,70, 66.9,100, 67.5,170, 68.1,110, 68.6,160, 69.2,100, 69.7,160, 70.4,80, 70.9,80, 71.6,160, 72.2,178],
 [72.3,-175, 73.0,-95, 74.2,-175],
 [74.6,150, 75.2,100, 75.7,80, 76.4,20, 77.0,10, 77.6,10, 78.1,0, 78.8,10, 79.4,-10, 80.0,0, 80.5,10, 81.2,-10, 81.8,10, 82.4,-5, 83.2,10, 83.7,-10, 84.4,-10, 84.9,30, 85.4,-60, 86.0,-90, 86.6,-40, 87.2,-10, 87.7,0, 88.4,-30, 88.9,-70, 89.6,-20, 90.1,30, 90.7,50, 91.3,60, 92.0,50, 92.5,50, 93.2,60, 93.8,20, 94.4,40, 95.0,60, 95.6,50, 96.2,70, 96.8,40, 97.4,20, 98.2,40, 98.9,0, 99.6,50, 100.4,60, 101.0,80, 101.5,80, 102.0,140, 102.6,90, 103.2,90, 103.8,70, 104.4,60, 104.8,20, 105.4,70, 106.0,80, 106.6,175],
 [106.7,-175, 107.3,-105, 107.9,-90, 108.4,-100, 109.1,-90, 109.7,-95, 110.3,-90, 110.9,-95, 111.5,-90]
];
const predGRU = [
 [0,10, 0.4,-40, 0.8,-70, 1.4,-65, 1.8,-80, 2.4,-110, 3.0,-120, 3.6,-110, 4.4,-105, 5.2,-90, 6.0,-95, 6.8,-90, 7.6,-95, 8.4,-90, 9.2,-95, 10.0,-90, 10.8,-95, 11.6,-85, 12.4,-90, 13.1,-75, 13.5,-110, 14.0,-170, 14.7,-140, 15.2,-110, 15.8,-80, 16.4,-70, 17.2,-50, 17.9,-10, 18.4,10, 19.0,40, 19.5,60, 20.0,30, 20.6,30, 21.1,50, 21.6,20, 22.2,-50, 22.8,-60, 23.5,-55, 24.0,-70, 24.7,-90, 25.4,-20, 26.0,-20, 26.6,-60, 27.0,-80, 27.6,-40, 28.3,10, 28.8,60, 29.2,80, 29.9,125, 30.3,80, 30.8,100, 31.5,80, 32.1,70, 32.6,50, 33.3,0, 33.9,40, 34.5,60, 35.0,50, 35.7,20, 36.5,-40, 37.3,-60, 38.1,-60, 38.9,-70, 39.7,-65, 40.5,-60, 41.3,-65, 42.1,-70, 42.9,-65, 43.8,20, 44.5,-10, 45.1,-60, 45.7,-110, 46.2,-160, 46.9,-120, 47.5,-175, 48.1,-130, 48.6,-100, 49.3,-90, 49.9,-60, 50.5,-10, 51.0,-20, 51.7,0, 52.3,10, 52.9,-20, 53.4,-40, 53.9,-90, 54.5,-40, 55.0,0, 55.7,10, 56.3,20, 56.9,30, 57.5,40, 58.1,70, 58.7,40, 59.3,60, 59.9,40, 60.5,50, 61.1,30, 61.7,60, 62.3,20, 62.9,40, 63.5,50, 64.1,20, 64.9,40, 65.5,80, 66.1,60, 66.8,80, 67.3,160, 67.9,178, 68.3,110, 68.9,150, 69.5,100, 70.1,80, 70.8,100, 71.3,150, 71.7,170],
 [71.8,-178, 72.5,-178, 72.9,-95, 73.5,-138, 74.3,-170],
 [74.5,160, 75.1,120, 75.7,100, 76.4,40, 76.9,20, 77.7,20, 78.5,30, 79.3,0, 80.1,20, 80.9,-10, 81.7,20, 82.5,10, 83.3,-10, 84.1,0, 84.7,30, 85.3,-60, 86.0,-90, 86.5,-40, 87.1,-10, 87.7,0, 88.3,0, 88.9,-60, 89.5,-20, 90.1,20, 90.8,50, 91.3,50, 91.9,50, 92.5,60, 93.2,40, 93.8,30, 94.4,30, 95.0,40, 95.6,50, 96.2,80, 96.7,60, 97.4,10, 98.0,30, 98.6,30, 99.1,0, 99.8,20, 100.6,80, 101.2,70, 101.8,110, 102.3,80, 103.0,70, 103.6,90, 104.2,60, 104.7,20, 105.4,70, 106.0,80, 106.6,170],
 [106.8,-170, 107.2,-115, 108.0,-110, 108.8,-90, 109.4,-100, 110.0,-125, 110.7,-115, 111.5,-105]
];
const predLSTM = [
 [0,5, 0.4,-50, 0.8,-70, 1.3,-60, 1.8,-65, 2.5,-110, 3.0,-105, 3.6,-100, 4.2,-100, 5.0,-95, 5.7,-80, 6.5,-90, 7.3,-85, 8.1,-90, 8.9,-85, 9.7,-95, 10.5,-90, 11.3,-80, 12.1,-90, 12.7,-80, 13.2,-70, 13.7,-130, 14.2,-178, 14.7,-130, 15.3,-100, 15.9,-70, 16.7,-60, 17.5,-10, 18.3,10, 18.8,30, 19.3,60, 19.9,20, 20.5,40, 21.1,20, 21.7,-10, 22.3,-60, 22.9,-70, 23.5,-60, 24.1,-80, 24.7,-100, 25.2,-40, 25.9,-20, 26.4,-40, 27.1,-70, 27.7,-30, 28.3,0, 28.9,60, 29.5,100, 30.0,140, 30.5,100, 31.1,100, 31.6,80, 32.3,60, 32.9,30, 33.5,20, 34.1,50, 34.7,60, 35.3,40, 35.9,0, 36.7,-50, 37.5,-60, 38.3,-60, 39.1,-65, 39.9,-55, 40.7,-60, 41.5,-60, 42.3,-65, 43.1,-60, 43.9,30, 44.5,0, 45.1,-60, 45.8,-130, 46.3,-160, 46.9,-110, 47.5,-170, 48.2,-100, 48.7,-90, 49.3,-95, 49.9,-70, 50.6,-30, 51.1,-10, 51.7,-10, 52.3,10, 52.9,-20, 53.5,-60, 54.1,-95, 54.7,-40, 55.4,-10, 56.2,0, 56.7,20, 57.3,30, 57.9,80, 58.6,70, 59.1,50, 59.7,60, 60.3,40, 61.0,50, 61.5,30, 62.1,50, 62.7,20, 63.4,40, 63.9,30, 64.5,40, 65.1,60, 65.8,80, 66.3,120, 66.9,140, 67.5,175, 68.1,110, 68.6,150, 69.2,120, 69.7,90, 70.4,80, 70.9,130, 71.6,178, 72.0,170],
 [72.4,-175, 73.2,-95, 74.1,-162],
 [74.6,170, 75.2,130, 75.7,100, 76.4,20, 77.0,10, 77.6,0, 78.1,10, 78.8,0, 79.4,-10, 80.0,10, 80.5,0, 81.2,10, 81.8,0, 82.4,10, 83.2,0, 83.7,-10, 84.4,-20, 84.9,30, 85.4,-60, 86.0,-90, 86.6,-40, 87.2,-10, 87.7,0, 88.4,-30, 88.9,-60, 89.6,-10, 90.1,30, 90.7,50, 91.3,60, 92.0,50, 92.5,60, 93.2,70, 93.6,20, 94.2,20, 94.8,50, 95.4,40, 96.0,70, 96.6,60, 97.2,20, 97.6,0, 98.2,20, 98.8,60, 99.4,20, 100.0,50, 100.5,80, 101.2,90, 101.8,100, 102.4,80, 102.9,90, 103.5,60, 104.0,70, 104.6,20, 105.2,70, 105.9,80, 106.5,170],
 [106.8,-170, 107.3,-105, 107.9,-110, 108.4,-100, 109.1,-95, 109.7,-105, 110.3,-110, 110.9,-100, 111.5,-95]
];
const predictions = [predKF,predGLM,predVR,predOLE,predWF,predWC,predFFNN,predXGB,predSVR,predRNN,predGRU,predLSTM];

// ---------------- layout ----------------
const INK = "#262626";
const FONT = '"Liberation Sans", Arial, Helvetica, sans-serif';
const W = 1830, PW = 1490, MT = 20, FH = 424, MB = 140, H = MT + FH + MB;
const colSvgLeft = [0, 1960];
const colMarginLeft = [165, 167];
const rowTop = [103, 760, 1418, 2075, 2733, 3390];
const tickLenY = 15 / FH * 360;   // 15px inward tick, in degrees
const tickLenX = 15 / PW * 120;   // 15px inward tick, in seconds

function toRows(segs, shift) {
  const out = [];
  segs.forEach((s, k) => { for (let i = 0; i < s.length; i += 2) out.push({t: s[i] - shift, v: s[i + 1], k}); });
  return out;
}

const fig = document.getElementById("fig");
methods.forEach((m, i) => {
  const r = Math.floor(i / 2), c = i % 2;
  const ml = colMarginLeft[c];
  const frameTop = rowTop[r];
  const frameLeft = colSvgLeft[c] + ml;

  const ttl = document.createElement("div");
  ttl.className = "ttl";
  ttl.textContent = `Method: ${m}     MAE: ${mae[i]}     AAE: ${aae[i]}`;
  ttl.style.left = (frameLeft + PW / 2 - 1000) + "px";
  ttl.style.top = (frameTop - 99) + "px";
  fig.appendChild(ttl);

  const plot = Plot.plot({
    width: W, height: H,
    marginTop: MT, marginBottom: MB, marginLeft: ml, marginRight: W - ml - PW,
    style: {fontFamily: FONT, background: "transparent", color: INK, overflow: "visible"},
    x: {domain: [0, 120]},
    y: {domain: [-180, 180]},
    marks: [
      Plot.line(toRows(trueAngle, trueLag[i]), {x: "t", y: "v", z: "k", stroke: "#000000", strokeWidth: 12.5, strokeLinejoin: "round", strokeLinecap: "round", clip: true}),
      Plot.line(toRows(predictions[i], 0), {x: "t", y: "v", z: "k", stroke: "#ff0000", strokeWidth: 10.5, strokeLinejoin: "round", strokeLinecap: "round", clip: true}),
      Plot.ruleX(xTicks, {x: d => d, y1: -180, y2: -180 + tickLenY, stroke: INK, strokeWidth: 3}),
      Plot.ruleX(xTicks, {x: d => d, y1: 180, y2: 180 - tickLenY, stroke: INK, strokeWidth: 3}),
      Plot.ruleY(yTicks, {y: d => d, x1: 0, x2: tickLenX, stroke: INK, strokeWidth: 3}),
      Plot.ruleY(yTicks, {y: d => d, x1: 120, x2: 120 - tickLenX, stroke: INK, strokeWidth: 3}),
      Plot.frame({stroke: INK, strokeWidth: 3}),
      Plot.axisX(xTicks, {tickSize: 0, tickPadding: 23, fontSize: 40, tickFormat: d => String(d), label: null, color: INK}),
      Plot.axisY(yTicks, {tickSize: 0, tickPadding: 14, fontSize: 40, tickFormat: d => String(d), label: null, color: INK}),
      Plot.text(["Head Angle"], {frameAnchor: "left", textAnchor: "middle", rotate: -90, dx: -118, lineAnchor: "bottom", fontSize: 53, fill: INK}),
      r === 5 ? Plot.text(["Time (s)"], {frameAnchor: "bottom", textAnchor: "middle", dy: 111, lineAnchor: "bottom", fontSize: 50, fill: INK}) : null
    ]
  });
  const wrap = document.createElement("div");
  wrap.className = "pnl";
  wrap.style.left = colSvgLeft[c] + "px";
  wrap.style.top = (frameTop - MT) + "px";
  wrap.style.width = W + "px";
  wrap.style.height = H + "px";
  wrap.appendChild(plot);
  fig.appendChild(wrap);
});
</script></body></html>
